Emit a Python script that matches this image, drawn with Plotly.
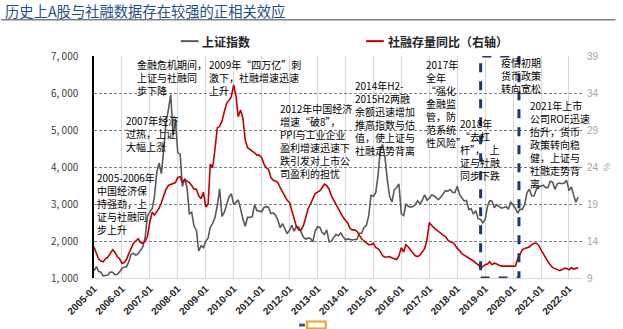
import pandas as pd
import plotly.graph_objects as go

# ---- data -------------------------------------------------------------
start_month = "2005-01-01"

# Shanghai Composite, monthly close
sh_index = [
    1191, 1306, 1181, 1159, 1060, 1081, 1083, 1162, 1155, 1093, 1099, 1161,   # 2005
    1258, 1299, 1299, 1441, 1642, 1672, 1613, 1658, 1752, 1838, 2099, 2675,   # 2006
    2786, 2881, 3183, 3841, 4109, 3821, 4471, 5218, 5552, 5954, 4871, 5262,   # 2007
    4383, 4348, 3473, 3693, 3433, 2736, 2775, 2397, 2293, 1729, 1871, 1821,   # 2008
    1991, 2082, 2373, 2477, 2633, 2959, 3412, 2667, 2779, 2996, 3195, 3277,   # 2009
    2989, 3051, 3110, 2871, 2592, 2398, 2638, 2639, 2656, 2979, 2820, 2808,   # 2010
    2791, 2905, 2928, 2911, 2743, 2762, 2701, 2568, 2359, 2468, 2333, 2199,   # 2011
    2292, 2428, 2263, 2397, 2373, 2225, 2103, 2047, 2086, 2069, 1980, 2269,   # 2012
    2385, 2366, 2237, 2178, 2301, 1979, 1994, 2098, 2175, 2141, 2221, 2116,   # 2013
    2033, 2056, 2033, 2026, 2039, 2048, 2202, 2217, 2364, 2420, 2683, 3235,   # 2014
    3210, 3310, 3748, 4442, 4612, 4277, 3664, 3206, 3053, 3383, 3445, 3539,   # 2015
    2738, 2688, 3004, 2938, 2917, 2930, 2979, 3085, 3005, 3100, 3250, 3104,   # 2016
    3159, 3242, 3223, 3155, 3117, 3192, 3273, 3361, 3349, 3393, 3317, 3307,   # 2017
    3481, 3259, 3169, 3082, 3095, 2847, 2876, 2725, 2821, 2603, 2588, 2494,   # 2018
    2585, 2941, 3091, 3078, 2899, 2979, 2933, 2886, 2905, 2929, 2872, 3050,   # 2019
    2977, 2880, 2750, 2860, 2852, 2985, 3310, 3396, 3218, 3225, 3392, 3473,   # 2020
    3483, 3509, 3442, 3447, 3615, 3591, 3397, 3544, 3568, 3547, 3564, 3640,   # 2021
    3361, 3462, 3252, 3047, 3186,                                             # 2022
]

# Total social financing stock, year-on-year growth (%)
tsf_yoy = [
    13.2, 12.2, 11.6, 11.3, 11.2, 11.6, 11.8, 12.3, 12.8, 12.5, 11.9, 11.6,   # 2005
    11.0, 11.1, 11.5, 12.3, 13.0, 13.7, 14.0, 14.3, 13.8, 13.7, 14.0, 14.6,   # 2006
    16.6, 17.9, 17.5, 17.9, 18.4, 19.2, 20.1, 21.0, 21.5, 21.6, 21.7, 21.9,   # 2007
    22.6, 22.7, 21.9, 22.3, 22.1, 21.9, 21.5, 21.0, 21.0, 20.1, 19.7, 20.6,   # 2008
    18.6, 19.0, 24.4, 23.9, 26.4, 29.3, 29.5, 30.2, 31.5, 32.6, 33.0, 33.5,   # 2009
    35.1, 33.5, 30.8, 31.7, 30.6, 27.7, 26.6, 26.4, 26.1, 25.9, 25.6, 25.6,   # 2010
    25.3, 24.4, 23.9, 23.7, 22.6, 22.2, 22.1, 21.9, 21.2, 20.6, 20.1, 19.5,   # 2011
    19.2, 18.1, 16.8, 15.9, 15.5, 15.5, 16.1, 17.2, 18.4, 19.0, 19.7, 20.4,   # 2012
    20.6, 20.8, 21.2, 21.7, 21.5, 21.0, 20.1, 19.5, 19.0, 18.4, 17.7, 17.2,   # 2013
    16.8, 16.4, 15.7, 15.5, 15.5, 15.3, 14.8, 14.3, 14.0, 13.8, 13.5, 13.5,   # 2014
    13.7, 13.1, 13.0, 12.6, 12.0, 11.8, 11.8, 11.9, 11.7, 11.6, 11.5, 12.0,   # 2015
    13.1, 12.5, 13.5, 13.2, 12.8, 12.3, 12.0, 11.9, 12.1, 12.5, 13.0, 14.1,   # 2016
    16.5, 16.1, 15.8, 15.5, 15.3, 15.0, 14.8, 14.6, 14.1, 13.9, 13.8, 13.5,   # 2017
    13.0, 12.7, 12.3, 12.1, 11.9, 11.7, 11.6, 11.3, 11.0, 10.8, 10.3, 10.6,   # 2018
    10.8, 10.9, 11.2, 10.8, 11.0, 10.9, 10.7, 10.6, 10.6, 10.6, 10.6, 10.6,   # 2019
    10.7, 10.6, 11.6, 12.3, 12.8, 13.0, 13.1, 13.2, 13.5, 13.7, 13.7, 13.4,   # 2020
    12.8, 12.2, 11.7, 11.2, 10.8, 10.4, 10.3, 10.1, 10.0, 10.1, 10.3, 10.3,   # 2021
    10.1, 10.4, 10.2, 10.3, 10.4,                                             # 2022
]

left_ticks = [1000, 2000, 3000, 4000, 5000, 6000, 7000]
left_tick_text = ["1, 000", "2, 000", "3, 000", "4, 000", "5, 000", "6, 000", "7, 000"]
right_ticks = [9, 14, 19, 24, 29, 34, 39]
year_ticks = [f"{y}-01-01" for y in range(2005, 2023)]
year_tick_text = [f"<b>{y}-01</b>" for y in range(2005, 2023)]

series_names = ["上证指数", "社融存量同比（右轴）"]
title_text = "历史上A股与社融数据存在较强的正相关效应"

# highlighted window: early pandemic easing
window_start, window_end = "2018-11-03", "2020-03-18"

notes = [
    ("2005-2006年<br>中国经济保<br>持强劲，上<br>证与社融同<br>步上升", 96, 170),
    ("2007年经济<br>过热，上证<br>大幅上涨", 125, 113),
    ("金融危机期间，<br>上证与社融同<br>步下降", 137, 56),
    ("2009年“四万亿”刺<br>激下，社融增速迅速<br>上升", 210, 56),
    ("2012年中国经济<br>增速“破8”，<br>PPI与工业企业<br>盈利增速迅速下<br>跌引发对上市公<br>司盈利的担忧", 282, 100),
    ("2014年H2-<br>2015H2两融<br>余额迅速增加<br>推高指数与估<br>值，使上证与<br>社融走势背离", 358, 77),
    ("2017年<br>全年<br>“强化<br>金融监<br>管，防<br>范系统<br>性风险”", 430, 56),
    ("2018年<br>“去杠<br>杆”，\u00a0\u00a0上<br>证与社融<br>同步下跌", 464, 116),
    ("疫情初期<br>货币政策<br>转向宽松", 506, 54),
    ("2021年上市<br>公司ROE迅速<br>抬升，货币<br>政策转向稳<br>健，上证与<br>社融走势背<br>离", 535, 97),
]

# ---- figure geometry (pixels) -----------------------------------------
W, H = 623, 329
PL, PR, PT, PB = 94, 589, 56, 280

def px_to_paper(px, py):
    return (px - PL) / (PR - PL), (PB - py) / (PB - PT)

dates = pd.date_range(start_month, periods=len(sh_index), freq="MS")
dates_tsf = pd.date_range(start_month, periods=len(tsf_yoy), freq="MS")

CJK = "Noto Sans CJK SC"
GRAY_LINE = "#595959"
RED_LINE = "#C00000"

fig = go.Figure()
fig.add_trace(go.Scatter(
    x=dates, y=sh_index, mode="lines", name=series_names[0],
    line=dict(color=GRAY_LINE, width=1.6), showlegend=False,
))
fig.add_trace(go.Scatter(
    x=dates_tsf, y=tsf_yoy, mode="lines", name=series_names[1], yaxis="y2",
    line=dict(color=RED_LINE, width=1.6), showlegend=False,
))

fig.update_layout(
    width=W, height=H,
    margin=dict(l=PL, r=W - PR, t=PT, b=H - PB, pad=0),
    paper_bgcolor="white", plot_bgcolor="white",
    font=dict(family=CJK, size=10, color="#000000"),
    xaxis=dict(
        type="date", range=["2005-01-01", "2022-06-20"],
        tickvals=year_ticks, ticktext=year_tick_text, tickangle=-45,
        tickfont=dict(family="Liberation Sans", size=10, color="#262626"),
        showgrid=True, gridcolor="#D9D9D9", gridwidth=1,
        showline=True, linecolor="#D9D9D9", linewidth=1,
        ticks="", zeroline=False,
    ),
    yaxis=dict(
        range=[1000, 7000], tickvals=left_ticks, ticktext=left_tick_text,
        tickfont=dict(family=CJK, size=10, color="#404040"),
        showgrid=True, gridcolor="#7F7F7F", gridwidth=1, griddash="3px,2px",
        showline=True, linecolor="#000000", linewidth=1.5,
        ticks="", ticklabelstandoff=12, zeroline=False,
    ),
    yaxis2=dict(
        overlaying="y", side="right", range=[9, 39], tickvals=right_ticks,
        tickfont=dict(family="Liberation Sans", size=10, color="#A6A6A6"),
        showgrid=False, showline=False, ticks="", ticklabelstandoff=4,
        zeroline=False,
        title=dict(text="%", font=dict(size=9, color="#A6A6A6"), standoff=6),
    ),
)

# dashed window frame
fig.add_shape(
    type="rect", xref="x", yref="y",
    x0=window_start, x1=window_end, y0=1000, y1=7000,
    line=dict(color="#1F3864", width=3, dash="dash"),
    fillcolor="rgba(0,0,0,0)", layer="above",
)

# text notes
for text, px, py in notes:
    xp, yp = px_to_paper(px, py)
    fig.add_annotation(
        xref="paper", yref="paper", x=xp, y=yp, xanchor="left", yanchor="top",
        text=text, showarrow=False, align="left", borderpad=0,
        font=dict(family=CJK, size=10, color="#000000"),
    )

# title and rule
fig.add_annotation(
    xref="paper", yref="paper", x=px_to_paper(2, 0)[0], y=px_to_paper(0, 10)[1],
    xanchor="left", yanchor="middle", text=title_text, showarrow=False,
    font=dict(family=CJK, size=14.3, color="#1F4E8C"),
)
fig.add_shape(type="line", xref="paper", yref="paper",
              x0=px_to_paper(0, 0)[0], x1=px_to_paper(W, 0)[0],
              y0=px_to_paper(0, 19.5)[1], y1=px_to_paper(0, 19.5)[1],
              line=dict(color="#404040", width=1))

# legend
legend_items = [(series_names[0], GRAY_LINE, 182), (series_names[1], RED_LINE, 370)]
for name, color, lx in legend_items:
    fig.add_shape(type="line", xref="paper", yref="paper",
                  x0=px_to_paper(lx, 0)[0], x1=px_to_paper(lx + 18, 0)[0],
                  y0=px_to_paper(0, 41)[1], y1=px_to_paper(0, 41)[1],
                  line=dict(color=color, width=2))
    fig.add_annotation(
        xref="paper", yref="paper", x=px_to_paper(lx + 20, 0)[0],
        y=px_to_paper(0, 41)[1], xanchor="left", yanchor="middle",
        text=f"<b>{name}</b>", showarrow=False,
        font=dict(family=CJK, size=12, color="#262626"),
    )

# logo fragment at the bottom edge
fig.add_shape(type="rect", xref="paper", yref="paper",
              x0=px_to_paper(302, 0)[0], x1=px_to_paper(308, 0)[0],
              y0=px_to_paper(0, 329)[1], y1=px_to_paper(0, 326)[1],
              line=dict(width=0), fillcolor="#2E5597")
fig.add_shape(type="rect", xref="paper", yref="paper",
              x0=px_to_paper(310, 0)[0], x1=px_to_paper(329, 0)[0],
              y0=px_to_paper(0, 331)[1], y1=px_to_paper(0, 324)[1],
              line=dict(color="#F4A020", width=2), fillcolor="rgba(0,0,0,0)")

fig.write_html("out.html")
